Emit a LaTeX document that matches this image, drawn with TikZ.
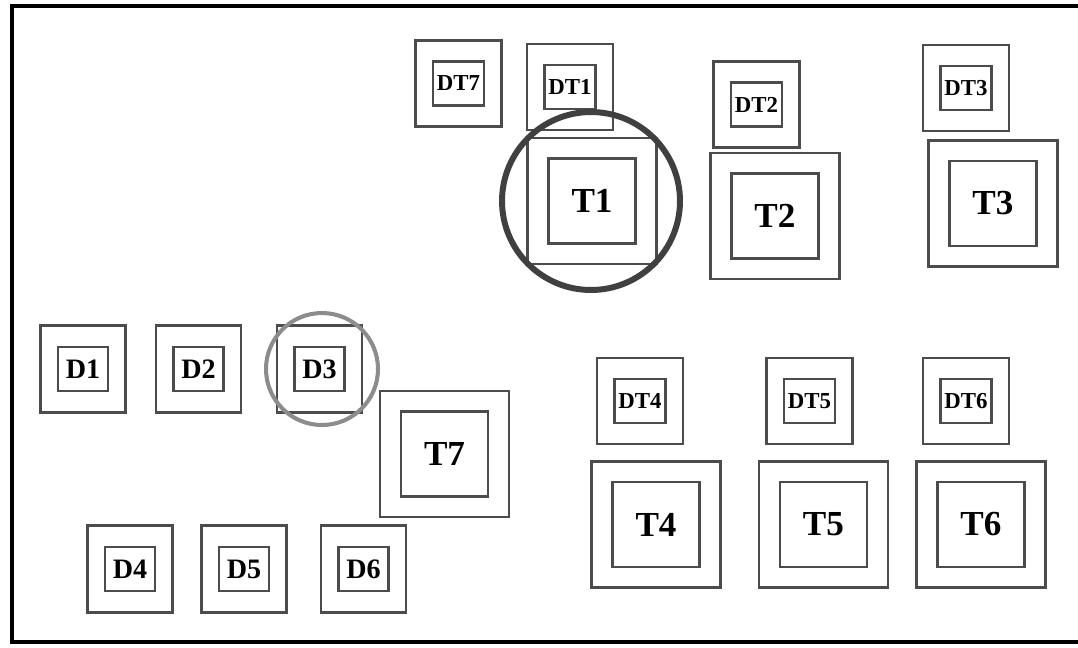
\documentclass[tikz,border=0pt]{standalone}
\usepackage{fontspec}
\setmainfont{Liberation Serif}
\usetikzlibrary{positioning}

\begin{document}
\begin{tikzpicture}[x = 0.02cm, y = -0.02cm, on grid,
	box/.style = {draw = black!70, line width = 1.3pt, inner sep = 0pt},
	dtout/.style = {box, minimum width = 1.72cm, minimum height = 1.72cm},
	dtin/.style = {box, minimum width = 1.02cm, minimum height = 0.88cm, font = \fontsize{13}{13}\selectfont\bfseries},
	dout/.style = {box, minimum width = 1.7cm, minimum height = 1.74cm},
	din/.style = {box, minimum width = 1.0cm, minimum height = 0.88cm, font = \fontsize{16}{16}\selectfont\bfseries},
	tout/.style = {box, minimum width = 2.58cm, minimum height = 2.52cm},
	tin/.style = {box, minimum width = 1.74cm, minimum height = 1.7cm, font = \fontsize{20}{20}\selectfont\bfseries},
	ring/.style = {circle, draw, inner sep = 0pt}]
	\useasboundingbox (0,0) rectangle (1078,647);
	% frame
	\draw[line width = 2.8pt] (1078,6) -- (12,6) -- (12,642) -- (1078,642);
	% upper group
	\node[tout] (T1) at (592,201) {};
	\node[tin] (t1) at (T1) {T1};
	\node[dtout] (DT1) [above = 2.28cm of T1, xshift = -0.44cm] {};
	\node[dtin] (dt1) at (DT1) {DT1};
	\node[dtout] (DT7) [left = 2.23cm of DT1, yshift = 0.07cm] {};
	\node[dtin] (dt7) at (DT7) {DT7};
	\node[tout] (T2) [right = 3.66cm of T1, yshift = -0.3cm] {};
	\node[tin] (t2) at (T2) {T2};
	\node[dtout] (DT2) [above = 2.23cm of T2, xshift = -0.37cm] {};
	\node[dtin] (dt2) at (DT2) {DT2};
	\node[tout] (T3) [right = 8.02cm of T1, yshift = -0.05cm] {};
	\node[tin] (t3) at (T3) {T3};
	\node[dtout] (DT3) [above = 2.31cm of T3, xshift = -0.54cm] {};
	\node[dtin] (dt3) at (DT3) {DT3};
	% left group
	\node[dout] (D1) at (83,369) {};
	\node[din] (d1) at (D1) {D1};
	\node[dout] (D2) [right = 2.31cm of D1] {};
	\node[din] (d2) at (D2) {D2};
	\node[dout] (D3) [right = 2.42cm of D2] {};
	\node[din] (d3) at (D3) {D3};
	\node[dout] (D4) at (130,569) {};
	\node[din] (d4) at (D4) {D4};
	\node[dout] (D5) [right = 2.28cm of D4] {};
	\node[din] (d5) at (D5) {D5};
	\node[dout] (D6) [right = 2.39cm of D5] {};
	\node[din] (d6) at (D6) {D6};
	\node[tout] (T7) at (444.5,454) {};
	\node[tin] (t7) at (T7) {T7};
	% lower right group
	\node[tout] (T4) at (656,524.5) {};
	\node[tin] (t4) at (T4) {T4};
	\node[tout] (T5) [right = 3.35cm of T4] {};
	\node[tin] (t5) at (T5) {T5};
	\node[tout] (T6) [right = 3.15cm of T5] {};
	\node[tin] (t6) at (T6) {T6};
	\node[dtout] (DT4) [above = 2.47cm of T4, xshift = -0.32cm] {};
	\node[dtin] (dt4) at (DT4) {DT4};
	\node[dtout] (DT5) [above = 2.47cm of T5, xshift = -0.28cm] {};
	\node[dtin] (dt5) at (DT5) {DT5};
	\node[dtout] (DT6) [above = 2.47cm of T6, xshift = -0.3cm] {};
	\node[dtin] (dt6) at (DT6) {DT6};
	% highlighted ones
	\node[ring, draw = black!75, line width = 3.4pt, minimum size = 3.56cm] (c1) at (591,201) {};
	\node[ring, draw = black!45, line width = 2.3pt, minimum size = 2.24cm] (c3) at (322,369) {};
\end{tikzpicture}
\end{document}
